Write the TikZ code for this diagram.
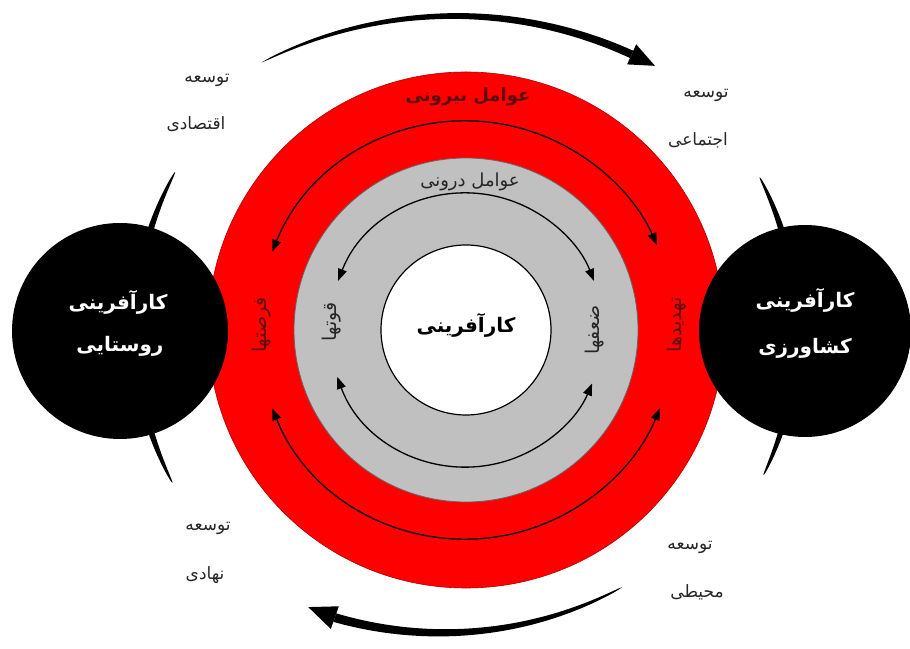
\documentclass[tikz,border=0pt]{standalone}
\usepackage{fontspec}
\usetikzlibrary{arrows.meta}
\TeXXeTstate=1
\newfontfamily\fa[Script=Arabic]{DejaVu Sans}
\definecolor{bandred}{RGB}{255,0,0}
\definecolor{bandgray}{RGB}{192,192,192}
\definecolor{darkred}{RGB}{95,10,10}
% tapered arc: cx cy r_tip r_end t_tip t_end wmax
\newcommand{\tarc}[7]{%
  \fill[black] plot[domain=#5:#6,samples=60,variable=\q]
   ({#1+(#3+(#4-#3)*(\q-#5)/(#6-#5)+#7*sqrt((\q-#5)/(#6-#5))/2)*cos(\q)},
    {#2+(#3+(#4-#3)*(\q-#5)/(#6-#5)+#7*sqrt((\q-#5)/(#6-#5))/2)*sin(\q)})
   -- plot[domain=#6:#5,samples=60,variable=\q]
   ({#1+(#3+(#4-#3)*(\q-#5)/(#6-#5)-#7*sqrt((\q-#5)/(#6-#5))/2)*cos(\q)},
    {#2+(#3+(#4-#3)*(\q-#5)/(#6-#5)-#7*sqrt((\q-#5)/(#6-#5))/2)*sin(\q)}) -- cycle;}
% arrow head: cx cy r t_base t_tip halfwidth
\newcommand{\ahead}[6]{%
  \fill[black] ({#1+(#3+#6)*cos(#4)},{#2+(#3+#6)*sin(#4)})
   -- ({#1+(#3-#6)*cos(#4)},{#2+(#3-#6)*sin(#4)})
   -- ({#1+#3*cos(#5)},{#2+#3*sin(#5)}) -- cycle;}
\begin{document}
\begin{tikzpicture}[x=1pt,y=1pt,
  bandarc/.style={line width=1.3pt,{Triangle[length=12pt,width=9pt]}-{Triangle[length=12pt,width=9pt]}},
  ring/.style={circle,inner sep=0pt,outer sep=0pt},
  titleR/.style={font=\fa\bfseries\fontsize{18}{21}\selectfont,text=darkred},
  titleG/.style={font=\fa\fontsize{18}{21}\selectfont,text=black!85},
  sideR/.style={font=\fa\fontsize{19}{22}\selectfont,text=darkred,rotate=90},
  sideG/.style={font=\fa\fontsize{19}{22}\selectfont,text=black!85,rotate=90},
  bigT/.style={font=\fa\bfseries\fontsize{20}{23}\selectfont},
  lbl/.style={font=\fa\fontsize{17}{20}\selectfont,text=black!85}]
\useasboundingbox (0,0) rectangle (910,648);
\fill[white] (0,0) rectangle (910,648);
\coordinate (C) at (466,318);
% big rotating arrows
\tarc{455}{206}{426}{426}{117}{65.5}{8}
\ahead{455}{206}{426}{65.5}{62}{11}
\tarc{465}{398}{372}{390}{295}{250.5}{9}
\ahead{465}{398}{390}{250.5}{246.3}{12}
% side strokes
\tarc{466}{318}{331}{331}{151.5}{166}{7}
\tarc{466}{318}{331}{331}{207.5}{194}{7}
\tarc{466}{318}{331}{331}{27.5}{14}{7}
\tarc{466}{318}{331}{331}{-26}{-12}{7}
% rings
\node[ring,minimum size=516pt,fill=bandred,draw=red!70!black,line width=0.6pt] (outer) at (C) {};
\node[ring,minimum size=344pt,fill=bandgray,draw=black!60,line width=0.8pt] (inner) at (C) {};
\node[ring,minimum size=170pt,fill=white,draw=black,line width=1.2pt] (core) at (C) {};
% band arrows
\draw[bandarc] (C) ++(158:209) arc[start angle=158,end angle=24,radius=209];
\draw[bandarc] (C) ++(202:209) arc[start angle=202,end angle=338,radius=209];
\draw[bandarc] (C) ++(159:137) arc[start angle=159,end angle=21,radius=137];
\draw[bandarc] (C) ++(200:137) arc[start angle=200,end angle=337,radius=137];
% black circles
\node[ring,minimum size=216pt,fill=black] (rural) at (120,317) {};
\node[ring,minimum size=212pt,fill=black] (agri) at (805,317) {};
% texts
\node[bigT] (coreT) at (466,323) {\beginR کارآفرینی\endR};
\node[bigT,text=white] (ruralA) at (118,346) {\beginR کارآفرینی\endR};
\node[bigT,text=white] (ruralB) at (120,302) {\beginR روستایی\endR};
\node[bigT,text=white] (agriA) at (805,348) {\beginR کارآفرینی\endR};
\node[bigT,text=white] (agriB) at (805,300) {\beginR کشاورزی\endR};
\node[titleR] (ext) at (468,551) {\beginR عوامل بیرونی\endR};
\node[titleG] (int) at (470,466) {\beginR عوامل درونی\endR};
\node[sideR] (opp) at (262,323) {\beginR فرصتها\endR};
\node[sideR] (thr) at (677,323) {\beginR تهدیدها\endR};
\node[sideG] (str) at (332,326) {\beginR قوتها\endR};
\node[sideG] (wea) at (595,318) {\beginR ضعفها\endR};
\node[lbl] (ecoA) at (207,568) {\beginR توسعه\endR};
\node[lbl] (ecoB) at (196,524) {\beginR اقتصادی\endR};
\node[lbl] (socA) at (706,553) {\beginR توسعه\endR};
\node[lbl] (socB) at (698,508) {\beginR اجتماعی\endR};
\node[lbl] (insA) at (208,120) {\beginR توسعه\endR};
\node[lbl] (insB) at (205,73) {\beginR نهادی\endR};
\node[lbl] (envA) at (690,101) {\beginR توسعه\endR};
\node[lbl] (envB) at (697,56) {\beginR محیطی\endR};
\end{tikzpicture}
\end{document}
